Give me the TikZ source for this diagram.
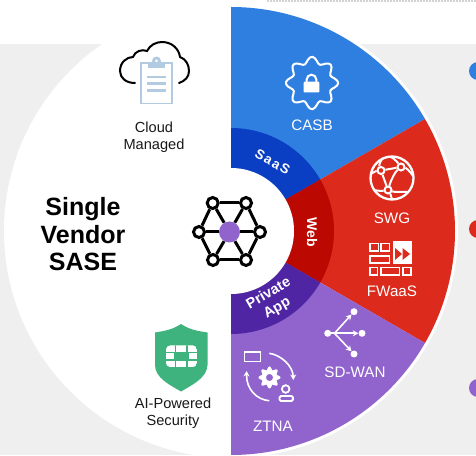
\documentclass[tikz,border=0pt]{standalone}
\usepackage{fontspec}
\setmainfont{Liberation Sans}
\usetikzlibrary{arrows.meta}
\definecolor{bgray}{HTML}{EFEFEF}
\definecolor{cblue}{HTML}{2F7FE0}
\definecolor{dblue}{HTML}{0A3FC4}
\definecolor{cred}{HTML}{DC2A1C}
\definecolor{dred}{HTML}{BB0800}
\definecolor{cpurple}{HTML}{9063CD}
\definecolor{dpurple}{HTML}{4F25A3}
\definecolor{cgreen}{HTML}{3EB37E}
\definecolor{clipblue}{HTML}{B3CBE0}
\tikzset{
  lbl/.style={font=\fontsize{14.6}{17}\selectfont,align=center,text=black!90,inner sep=0pt},
  wlbl/.style={font=\fontsize{15.2}{18}\selectfont,align=center,text=white,inner sep=0pt},
  ring/.style={align=center,text=white,inner sep=0pt},
  hubv/.style={circle,draw=black,line width=3pt,fill=white,minimum size=11pt,inner sep=0pt},
  hubline/.style={draw=black,line width=3pt},
  wline/.style={draw=white,line width=2pt},
  wfill/.style={fill=white},
  dotnode/.style={circle,fill=white,minimum size=7pt,inner sep=0pt},
  arr/.style={draw=white,line width=1.6pt,-{Stealth[length=5.5pt,width=6pt]}},
  swgnode/.style={circle,draw=white,line width=2pt,fill=none,minimum size=7pt,inner sep=0pt},
  fwbox/.style={draw=white,line width=1.7pt}
}
\begin{document}
\begin{tikzpicture}[x=1pt,y=1pt]
\useasboundingbox (0,0) rectangle (476,455);
\clip (0,0) rectangle (476,455);
\begin{scope}[shift={(0,455)},yscale=-1]
% backdrop
\fill[white] (0,0) rectangle (476,455);
\fill[bgray] (0,44) rectangle (476,455);
\draw[gray!70,line width=1.6pt,line cap=round,dash pattern=on 0pt off 3pt] (268,1) -- (476,1);
\fill[cblue] (478,71) circle (9);
\fill[cred] (478,229) circle (9);
\fill[cpurple] (478,388) circle (9);
\fill[white] (231,231) circle (227);
% outer sectors
\coordinate (c) at (231,231);
\fill[cblue] (c) -- +(-90:224) arc[start angle=-90,end angle=-30,radius=224] -- cycle;
\fill[cred] (c) -- +(-30:224) arc[start angle=-30,end angle=30,radius=224] -- cycle;
\fill[cpurple] (c) -- +(30:224) arc[start angle=30,end angle=90,radius=224] -- cycle;
% inner ring
\fill[dblue] (c) -- +(-90:103) arc[start angle=-90,end angle=-30,radius=103] -- cycle;
\fill[dred] (c) -- +(-30:103) arc[start angle=-30,end angle=30,radius=103] -- cycle;
\fill[dpurple] (c) -- +(30:103) arc[start angle=30,end angle=90,radius=103] -- cycle;
\fill[white] (c) circle (63);
\fill[white] (168,120) rectangle (231,340);
% ring labels
\node[ring,rotate=-30,font={\fontsize{13.5}{15}\bfseries\addfontfeature{LetterSpace=12}\selectfont}] (saas) at (272.5,162) {SaaS};
\node[ring,rotate=-90,font=\fontsize{14}{16}\bfseries\selectfont] (web) at (312,232) {Web};
\node[ring,rotate=30,font=\fontsize{14.5}{16.8}\bfseries\selectfont] (papp) at (273,301) {Private\\App};
% hub
\node[circle,fill=cpurple,minimum size=21pt,inner sep=0pt] (h0) at (229.5,232) {};
\node[hubv] (h1) at (199,232) {};
\node[hubv] (h2) at (212.7,203) {};
\node[hubv] (h3) at (246,203) {};
\node[hubv] (h4) at (260,232) {};
\node[hubv] (h5) at (246,260) {};
\node[hubv] (h6) at (213,260) {};
\draw[hubline] (h1)--(h2); \draw[hubline] (h2)--(h3); \draw[hubline] (h3)--(h4);
\draw[hubline] (h4)--(h5); \draw[hubline] (h5)--(h6); \draw[hubline] (h6)--(h1);
\foreach \n in {1,...,6} \draw[hubline] (h0)--(h\n);
% cloud managed
\draw[black,line width=2pt,line cap=round] (135,83)
  .. controls (126,83) and (120,78) .. (120,71)
  .. controls (120,62) and (127,57) .. (133,57)
  .. controls (135,51) and (142,49) .. (147,51)
  .. controls (150,45) and (156,42) .. (162,42)
  .. controls (172,42) and (179,49) .. (180,57)
  .. controls (186,59) and (189,65) .. (189,71)
  .. controls (189,77) and (185,81) .. (179,83);
\draw[clipblue,line width=1.9pt] (141,63) rectangle (172,103.5);
\fill[clipblue] (148,62) rectangle (165,68.5);
\fill[clipblue] (156.5,61) circle (4.5);
\fill[white] (156.5,61) circle (1.5);
\foreach \y in {77,83.5,90.5} \draw[clipblue,line width=2.1pt] (147,\y) -- (166,\y);
\node[lbl] (cloud) at (154,137) {Cloud\\Managed};
% title
\node[font=\fontsize{25}{27.5}\bfseries\selectfont,align=center,text=black,inner sep=0pt] (title) at (83,234.5) {Single\\Vendor\\SASE};
% shield
\fill[cgreen] (181,324) .. controls (172,330) and (164,331) .. (155,332.5) -- (155,365)
  .. controls (155,378) and (170,385) .. (181,391.5)
  .. controls (192,385) and (207,378) .. (207.5,365) -- (207.5,332.5)
  .. controls (198,331) and (190,330) .. (181,324) -- cycle;
\begin{scope}
\clip[rounded corners=4pt] (166,345.5) rectangle (197,367);
\fill[white] (166,345.5) rectangle (197,367);
\draw[cgreen,line width=1.5pt] (166,352.3) -- (197,352.3) (166,360.2) -- (197,360.2) (175.3,340) -- (175.3,352.3) (187,340) -- (187,352.3) (175.3,360.2) -- (175.3,370) (187,360.2) -- (187,370);
\fill[cgreen] (173.5,352) rectangle (188.5,360.5);
\end{scope}
\node[lbl] (ai) at (173,413.5) {AI-Powered\\Security};
% CASB icon
\draw[wline,line join=round] plot[smooth cycle,samples=65,domain=0:354.375] ({312+(23+3.2*cos(8*\x))*cos(\x)},{83+(23+3.2*cos(8*\x))*sin(\x)});
\fill[white,rounded corners=1pt] (303.7,81.7) rectangle (319.3,92.5);
\draw[white,line width=2pt] (306.7,82) -- (306.7,79.5) arc[start angle=180,end angle=360,radius=4.8] -- (316.3,82);
\node[wlbl] (casb) at (312,125) {CASB};
% SWG icon
\draw[white,line width=2.3pt] (392,178) circle (21.5);
\node[swgnode] (s1) at (381,170.5) {};
\node[swgnode] (s2) at (401,167) {};
\node[swgnode] (s3) at (388,190) {};
\draw[wline] (s1) -- (s2);
\draw[wline] (s1) -- (s3);
\draw[wline] (s2) .. controls (395,172) and (391,180) .. (s3);
\draw[wline] (s1) .. controls (376,171) and (374,172) .. (371,174);
\draw[wline] (s1) .. controls (379,165) and (380,161) .. (383,158);
\draw[wline] (s2) .. controls (398,163) and (395,159) .. (391,157);
\draw[wline] (s2) .. controls (406,168) and (410,171) .. (413,176);
\draw[wline] (s3) .. controls (383,191) and (378,191) .. (374,190);
\draw[wline] (s3) .. controls (394,192) and (400,192) .. (407,192);
\draw[wline] (s3) .. controls (390,193) and (391,196) .. (392,199);
\node[wlbl] (swg) at (392,218) {SWG};
% FWaaS icon
\draw[fwbox] (370,243.5) rectangle (378.5,251);
\draw[fwbox] (381,243.5) rectangle (389.5,251);
\draw[fwbox] (370,256) rectangle (389.5,263);
\draw[fwbox] (370,267.5) rectangle (377.5,275);
\draw[fwbox] (381,267.5) rectangle (399.5,275);
\draw[fwbox] (403,267.5) rectangle (411,275);
\fill[white] (392.5,241.5) rectangle (411.5,264);
\fill[cred] (395,248) -- (402,254) -- (395,260) -- cycle;
\fill[cred] (402.5,248) -- (410,254) -- (402.5,260) -- cycle;
\node[wlbl] (fwaas) at (392,291) {FWaaS};
% SD-WAN icon
\node[dotnode] (d0) at (327.7,333.3) {};
\coordinate (d1) at (334.5,333.3);
\node[dotnode] (d2) at (354,311.7) {};
\node[dotnode] (d3) at (362,333.3) {};
\node[dotnode] (d4) at (354,354) {};
\draw[wline,line width=1.6pt] (d0) -- (d1);
\draw[arr] (d1) -- (d2);
\draw[arr] (d1) -- (d3);
\draw[arr] (d1) -- (d4);
\node[wlbl] (sdwan) at (355,372) {SD-WAN};
% ZTNA icon
\draw[white,line width=1.9pt] (244.5,352) rectangle (260.5,361.5);
\draw[arr] (269.3,353.3) .. controls (281,355) and (293,366) .. (293.3,380);
\draw[arr] (269.3,400.7) .. controls (257,400) and (246,389) .. (246.7,371);
\fill[white,even odd rule] plot[smooth cycle,samples=49,domain=0:352.5] ({269.5+(9.4+1.7*cos(8*\x))*cos(\x)},{377.5+(9.4+1.7*cos(8*\x))*sin(\x)}) (269.5,377.5) circle (3.6);
\draw[white,line width=1.8pt] (285.7,389) circle (3.8);
\draw[white,line width=1.8pt,rounded corners=1.5pt] (279.5,401) rectangle (293,396);
\node[wlbl] (ztna) at (273,426) {ZTNA};
\end{scope}
\end{tikzpicture}
\end{document}
